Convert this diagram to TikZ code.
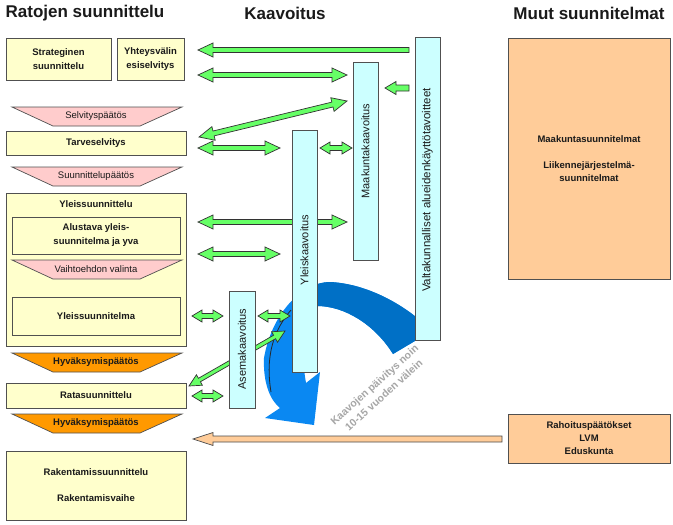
\documentclass[tikz,border=0pt]{standalone}
\usepackage{fontspec}
\setmainfont{Liberation Sans}
\usetikzlibrary{calc}
\definecolor{yel}{HTML}{FFFFCC}
\definecolor{pinkT}{HTML}{FFCCCC}
\definecolor{orangeT}{HTML}{FF9900}
\definecolor{cyanbar}{HTML}{CCFFFF}
\definecolor{peach}{HTML}{FFCC99}
\definecolor{greenA}{HTML}{66FF66}
\definecolor{bordergray}{HTML}{505050}
\definecolor{bluefront}{HTML}{0A88F2}
\definecolor{blueback}{HTML}{0070C6}
\definecolor{graytext}{HTML}{A6A6A6}
\definecolor{txt}{HTML}{1A1A1A}
\newcommand{\boxfont}{\fontsize{9.5}{14}\selectfont\bfseries}
\newcommand{\pinkfont}{\fontsize{9.5}{11}\selectfont}
\newcommand{\orfont}{\fontsize{9.5}{11}\selectfont\bfseries}
\def\sw{2.5pt}\def\hw{7pt}\def\hl{15pt}
\tikzset{
  asz/.code args={#1/#2/#3}{\def\sw{#1}\def\hw{#2}\def\hl{#3}},
  title/.style={font=\fontsize{17}{19}\selectfont\bfseries, text=txt, inner sep=0pt},
  ybox/.style={draw=bordergray, line width=0.9pt, fill=yel, inner sep=0pt, align=center, font=\boxfont, text=txt},
  pbox/.style={draw=bordergray, line width=0.9pt, fill=peach, inner sep=0pt, align=center, font=\fontsize{9.5}{13}\selectfont\bfseries, text=txt},
  boxtext/.style={inner sep=0pt, font=\boxfont, text=txt},
  barbox/.style={draw=bordergray, line width=0.9pt, fill=cyanbar, inner sep=0pt},
  bartext/.style={rotate=90, inner sep=0pt, font=\fontsize{11}{13}\selectfont, text=txt},
  garrow/.style={draw=black!80, line width=0.7pt, fill=greenA, line join=miter},
  oarrow/.style={draw=black!70, line width=0.7pt, fill=peach, line join=miter},
  graytxt/.style={inner sep=0pt, align=center, font=\fontsize{10.5}{14}\selectfont\bfseries, text=graytext}
}
\newcommand{\dblarrow}[3][]{%
  \path[garrow,#1] let \p1=(#2), \p2=(#3), \n1={atan2(\y2-\y1,\x2-\x1)} in
   (\p1) -- ($(\p1)+(\n1:\hl)+(\n1+90:\hw)$) -- ($(\p1)+(\n1:\hl)+(\n1+90:\sw)$)
   -- ($(\p2)+(\n1:-\hl)+(\n1+90:\sw)$) -- ($(\p2)+(\n1:-\hl)+(\n1+90:\hw)$)
   -- (\p2) -- ($(\p2)+(\n1:-\hl)+(\n1-90:\hw)$) -- ($(\p2)+(\n1:-\hl)+(\n1-90:\sw)$)
   -- ($(\p1)+(\n1:\hl)+(\n1-90:\sw)$) -- ($(\p1)+(\n1:\hl)+(\n1-90:\hw)$) -- cycle;}
\newcommand{\sglarrow}[3][]{%
  \path[garrow,#1] let \p1=(#2), \p2=(#3), \n1={atan2(\y2-\y1,\x2-\x1)} in
   ($(\p1)+(\n1+90:\sw)$) -- ($(\p2)+(\n1:-\hl)+(\n1+90:\sw)$) -- ($(\p2)+(\n1:-\hl)+(\n1+90:\hw)$)
   -- (\p2) -- ($(\p2)+(\n1:-\hl)+(\n1-90:\hw)$) -- ($(\p2)+(\n1:-\hl)+(\n1-90:\sw)$)
   -- ($(\p1)+(\n1-90:\sw)$) -- cycle;}
\newcommand{\trap}[4]{%
  \path[draw=bordergray, line width=0.7pt, fill=#3] (12,#2) -- (182,#2) -- (140,#2+19) -- (53,#2+19) -- cycle;
  \node[inner sep=0pt, text=txt] (#1) at (96,#2+9.5) {#4};}
\begin{document}
\begin{tikzpicture}[x=1pt,y=-1pt]
\useasboundingbox[fill=white] (0,0) rectangle (673,525);

% titles
\node[title] (tRat) at (85,13) {Ratojen suunnittelu};
\node[title] (tKaa) at (285,13) {Kaavoitus};
\node[title] (tMuu) at (589,13) {Muut suunnitelmat};

% left column
\node[ybox, minimum width=105pt, minimum height=42pt] (strat) at (58.5,59) {Strateginen\\suunnittelu};
\node[ybox, minimum width=67pt, minimum height=42pt] (yht) at (150.5,59) {Yhteysvälin\\esiselvitys};
\trap{selv}{107}{pinkT}{\pinkfont Selvityspäätös}
\node[ybox, minimum width=180pt, minimum height=24pt] (tarve) at (96,143) {Tarveselvitys};
\trap{suun}{167}{pinkT}{\pinkfont Suunnittelupäätös}
\node[ybox, minimum width=180pt, minimum height=153pt] (yleisbig) at (96,269.5) {};
\node[boxtext] (yleislbl) at (96,204) {Yleissuunnittelu};
\node[ybox, minimum width=168pt, minimum height=37pt] (alust) at (96,235.5) {Alustava yleis-\\suunnitelma ja yva};
\trap{vaiht}{260}{pinkT}{\pinkfont Vaihtoehdon valinta}
\node[ybox, minimum width=168pt, minimum height=38pt] (ysuun) at (96,316) {Yleissuunnitelma};
\trap{hyv1}{353}{orangeT}{\orfont Hyväksymispäätös}
\node[ybox, minimum width=180pt, minimum height=25pt] (rata) at (96,395.5) {Ratasuunnittelu};
\trap{hyv2}{414}{orangeT}{\orfont Hyväksymispäätös}
\node[ybox, minimum width=180pt, minimum height=69pt] (rak) at (96,485.5) {Rakentamissuunnittelu\\[12pt]Rakentamisvaihe};

% right column
\node[pbox, minimum width=162pt, minimum height=241pt] (muut) at (589,158.5) {Maakuntasuunnitelmat\\[13pt]Liikennejärjestelmä-\\suunnitelmat};
\node[pbox, minimum width=162pt, minimum height=49pt] (rahoit) at (589,438.5) {Rahoituspäätökset\\LVM\\Eduskunta};

% blue curved arrow
\path[fill=bluefront] (425,325) .. controls (410,310) and (372,284) .. (330,282)
  .. controls (303,282) and (272,312) .. (264,358)
  .. controls (263,383) and (270,400) .. (280,408)
  -- (265,418) -- (314,425) -- (320,372) -- (306,383)
  .. controls (302,360) and (300,330) .. (317,306)
  .. controls (345,306) and (375,325) .. (393,354) -- (425,335) -- cycle;
\begin{scope}
\clip (317,0) rectangle (673,362);
\path[fill=blueback] (425,325) .. controls (410,310) and (372,284) .. (330,282)
  .. controls (303,282) and (272,312) .. (264,358)
  .. controls (263,383) and (270,400) .. (280,408)
  -- (265,418) -- (314,425) -- (320,372) -- (306,383)
  .. controls (302,360) and (300,330) .. (317,306)
  .. controls (345,306) and (375,325) .. (393,354) -- (425,335) -- cycle;
\end{scope}
\draw[black!85, line width=0.8pt] (291,310) .. controls (274,330) and (265,355) .. (271,392);

% arrow end points
\coordinate (a1s) at (409,50);  \coordinate (a1e) at (198,50);
\coordinate (a2s) at (198,75);  \coordinate (a2e) at (347,75);
\coordinate (a3s) at (409,88);  \coordinate (a3e) at (385,88);
\coordinate (a4s) at (199,137); \coordinate (a4e) at (347,101);
\coordinate (a5s) at (198,148); \coordinate (a5e) at (280,148);
\coordinate (a6s) at (320,148); \coordinate (a6e) at (352,148);
\coordinate (a7s) at (198,222); \coordinate (a7e) at (347,222);
\coordinate (a8s) at (198,254); \coordinate (a8e) at (280,254);
\coordinate (a9s) at (192,316); \coordinate (a9e) at (223,316);
\coordinate (a10s) at (258,316); \coordinate (a10e) at (290,316);
\coordinate (a11s) at (189,386); \coordinate (a11e) at (285,331);
\coordinate (a12s) at (192,396); \coordinate (a12e) at (223,396);
\coordinate (oas) at (502,439); \coordinate (oae) at (193,439);

% green arrows
\sglarrow{a1s}{a1e}
\dblarrow{a2s}{a2e}
\sglarrow[asz=3pt/6.5pt/11pt]{a3s}{a3e}
\dblarrow{a4s}{a4e}
\dblarrow{a5s}{a5e}
\dblarrow[asz=2.5pt/6pt/10pt]{a6s}{a6e}
\dblarrow{a7s}{a7e}
\dblarrow{a8s}{a8e}
\dblarrow[asz=2.5pt/6pt/10pt]{a9s}{a9e}
\dblarrow[asz=2.5pt/6pt/10pt]{a10s}{a10e}
\dblarrow[asz=2pt/6pt/12pt]{a11s}{a11e}
\dblarrow[asz=2.5pt/6pt/10pt]{a12s}{a12e}
\sglarrow[oarrow, asz=3pt/6.5pt/20pt]{oas}{oae}

% vertical bars
\node[barbox, minimum width=25pt, minimum height=303pt] (valt) at (427.5,188.5) {};
\node[bartext, font=\fontsize{11.5}{13}\selectfont] (valtT) at (427.5,190) {Valtakunnalliset alueidenkäyttötavoitteet};
\node[barbox, minimum width=25pt, minimum height=198pt] (maak) at (365.5,161) {};
\node[bartext] (maakT) at (365.5,151) {Maakuntakaavoitus};
\node[barbox, minimum width=25pt, minimum height=242pt] (yleisk) at (304.5,251) {};
\node[bartext] (yleiskT) at (304.5,250) {Yleiskaavoitus};
\node[barbox, minimum width=26pt, minimum height=117pt] (asema) at (242,349.5) {};
\node[bartext] (asemaT) at (242,349) {Asemakaavoitus};

% gray rotated label
\node[graytxt, rotate=42] (kaav) at (379,390) {Kaavojen päivitys noin\\10-15 vuoden välein};
\end{tikzpicture}
\end{document}
